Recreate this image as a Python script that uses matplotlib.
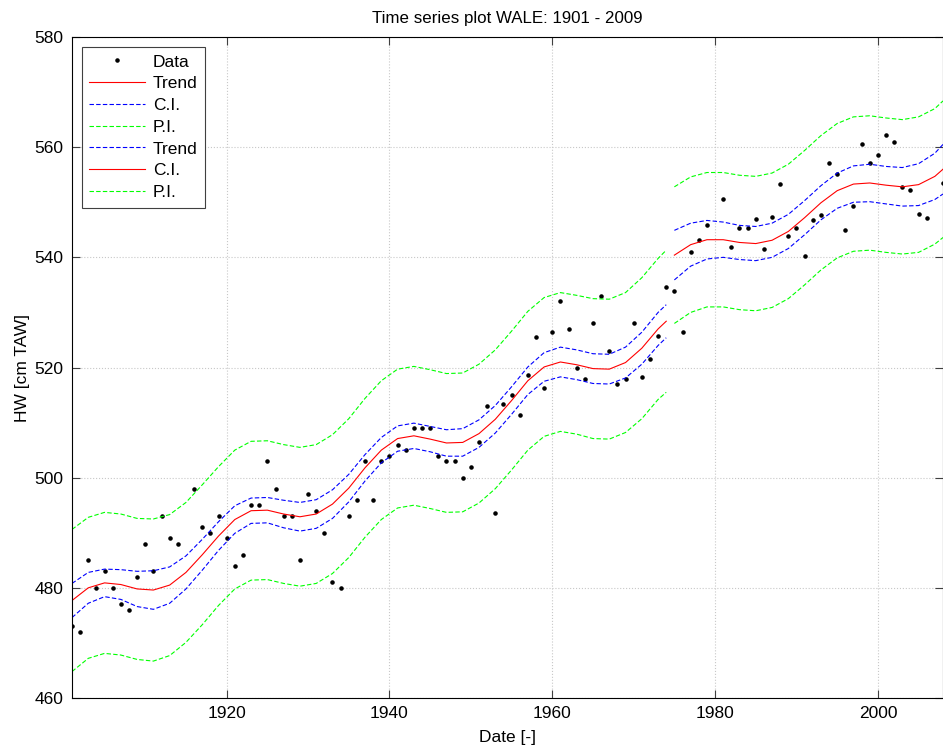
"""Tijreeks hoogwater WALE 1901 - 2009: data, trend en betrouwbaarheidsbanden."""

import numpy as np
import matplotlib

matplotlib.use("Agg")
import matplotlib.pyplot as plt

plt.rcParams["font.family"] = ["Liberation Sans", "DejaVu Sans"]

# jaarlijkse hoogwaters (NaN = ontbrekend jaar)
jaren = np.arange(1901, 2009)
hw = [
    473, 472, 485, 480, 483, 480, 477, 476, 482, 488,  # 1901-1910
    483, 493, 489, 488, np.nan, 498, 491, 490, 493, 489,  # 1911-1920
    484, 486, 495, 495, 503, 498, 493, 493, 485, 497,  # 1921-1930
    494, 490, 481, 480, 493, 496, 503, 496, 503, 504,  # 1931-1940
    506, 505, 509, 509, 509, 504, 503, 503, 500, 502,  # 1941-1950
    506.5, 513, 493.5, 513.3, 515, 511.4, 518.7, 525.6, 516.3, 526.4,  # 1951-1960
    532, 527, 520, 518, 528, 533, 523, 517, 518, 528,  # 1961-1970
    518.3, 521.5, 525.7, 534.6, 533.9, 526.4, 540.9, 543.2, 545.9, np.nan,  # 1971-1980
    550.6, 541.9, 545.3, 545.3, 547.0, 541.6, 547.4, 553.3, 543.9, 545.3,  # 1981-1990
    540.2, 546.7, 547.7, 557.2, 555.1, 545.0, 549.3, 560.6, 557.1, 558.5,  # 1991-2000
    562.2, 560.9, 552.7, 552.2, 547.8, 547.2, np.nan, 553.5,  # 2001-2008
]

# trend + halve breedte van C.I. en P.I., periode 1 (1901-1974)
jaren1 = list(range(1901, 1974, 2)) + [1974]
trend1 = [
    477.7, 480.0, 480.9, 480.6, 479.8, 479.6, 480.5, 482.8, 486.0, 489.4,
    492.4, 494.0, 494.1, 493.4, 492.9, 493.4, 495.2, 498.1, 501.8, 505.0,
    507.1, 507.6, 507.0, 506.3, 506.4, 508.0, 510.6, 514.0, 517.6, 520.1,
    521.0, 520.5, 519.8, 519.7, 520.9, 523.5, 527.0, 528.4,
]
ci1 = [
    3.1, 2.8, 2.5, 2.7, 3.2, 3.5, 3.3, 3.0, 2.8, 2.6,
    2.5, 2.3, 2.3, 2.5, 2.6, 2.6, 2.6, 2.5, 2.4, 2.3,
    2.3, 2.3, 2.3, 2.4, 2.5, 2.5, 2.5, 2.5, 2.5, 2.6,
    2.7, 2.7, 2.7, 2.7, 2.8, 2.9, 3.0, 3.0,
]
pi1 = [
    12.9, 12.8, 12.8, 12.8, 12.8, 12.9, 12.8, 12.7, 12.7, 12.6,
    12.6, 12.6, 12.6, 12.6, 12.6, 12.6, 12.6, 12.6, 12.6, 12.6,
    12.6, 12.6, 12.6, 12.6, 12.6, 12.6, 12.6, 12.6, 12.6, 12.6,
    12.6, 12.6, 12.7, 12.7, 12.7, 12.8, 12.8, 12.9,
]

# periode 2 (1975-2008)
jaren2 = list(range(1975, 2008, 2)) + [2008]
trend2 = [
    540.4, 542.3, 543.2, 543.2, 542.7, 542.5, 543.1, 544.7, 547.2, 549.9,
    552.1, 553.3, 553.5, 553.1, 552.8, 553.2, 554.7, 556.0,
]
ci2 = [4.5, 3.9, 3.5, 3.2, 3.1, 3.1, 3.1, 3.1, 3.1, 3.1, 3.2, 3.3, 3.4, 3.4, 3.5, 3.8, 4.2, 4.5]
pi2 = [12.4, 12.3, 12.2, 12.2, 12.2, 12.2, 12.2, 12.2, 12.2, 12.2, 12.2, 12.2, 12.2, 12.2, 12.2, 12.3, 12.3, 12.4]

labels = ["Data", "Trend", "C.I.", "P.I.", "Trend", "C.I.", "P.I."]


def main():
    fig = plt.figure(figsize=(9.43, 7.47), dpi=100)
    ax = fig.add_axes([72 / 943, 49 / 747, 871 / 943, 661 / 747])

    groen = "#00ff00"
    streep = dict(linestyle="--", dashes=(4, 2), linewidth=0.8)

    h_data, = ax.plot(jaren, hw, ".", color="black", markersize=4.5)

    t1 = np.array(trend1)
    h_tr1, = ax.plot(jaren1, t1, color="red", linewidth=0.8)
    h_ci1, = ax.plot(jaren1, t1 + np.array(ci1), color="blue", **streep)
    ax.plot(jaren1, t1 - np.array(ci1), color="blue", **streep)
    h_pi1, = ax.plot(jaren1, t1 + np.array(pi1), color=groen, **streep)
    ax.plot(jaren1, t1 - np.array(pi1), color=groen, **streep)

    t2 = np.array(trend2)
    h_tr2, = ax.plot(jaren2, t2, color="red", linewidth=0.8)
    h_ci2, = ax.plot(jaren2, t2 + np.array(ci2), color="blue", **streep)
    ax.plot(jaren2, t2 - np.array(ci2), color="blue", **streep)
    h_pi2, = ax.plot(jaren2, t2 + np.array(pi2), color=groen, **streep)
    ax.plot(jaren2, t2 - np.array(pi2), color=groen, **streep)

    ax.set_xlim(1901, 2008)
    ax.set_ylim(460, 580)
    ax.set_xticks([1920, 1940, 1960, 1980, 2000])
    ax.set_yticks(range(460, 581, 20))
    ax.grid(True, linestyle=":", color="#c8c8c8", linewidth=0.8)
    ax.tick_params(direction="in", length=6, width=0.8, color="#404040",
                   top=True, right=True, labelsize=12.5, pad=6)
    for spine in ax.spines.values():
        spine.set_linewidth(0.8)
        spine.set_color("black")

    ax.set_title("Time series plot WALE: 1901 - 2009", fontsize=12.2, pad=10)
    ax.set_xlabel("Date [-]", fontsize=12.5, labelpad=6)
    ax.set_ylabel("HW [cm TAW]", fontsize=12.5, labelpad=3)

    leg = ax.legend(
        [h_data, h_tr1, h_ci1, h_pi1, h_ci2, h_tr2, h_pi2],
        labels,
        loc="upper left",
        fontsize=12.5,
        fancybox=False,
        framealpha=1,
        edgecolor="#404040",
        handlelength=3.2,
        handletextpad=0.45,
        labelspacing=0.38,
        borderaxespad=0.55,
        borderpad=0.45,
    )
    leg.get_frame().set_linewidth(0.8)

    fig.savefig("out.png", dpi=100)
    plt.close(fig)


if __name__ == "__main__":
    main()
